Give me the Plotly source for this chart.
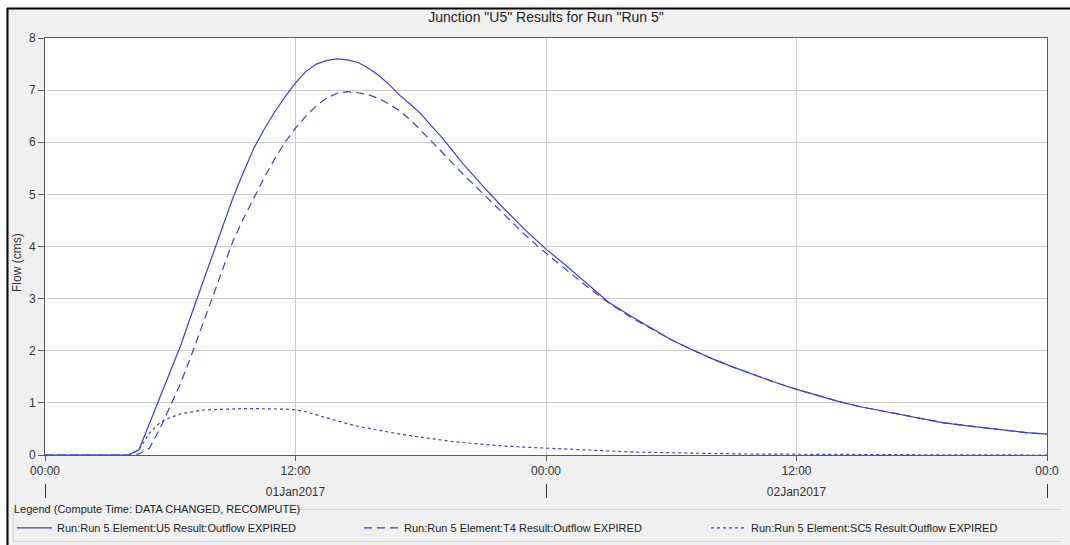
import pandas as pd
import plotly.graph_objects as go

# ---------------- data ----------------
START = "2017-01-01 00:00"
END = "2017-01-03 00:00"

hours = [0, 1, 2, 3, 4, 4.5, 5, 5.5, 6, 6.5, 7, 7.5, 8, 8.5, 9, 9.5, 10, 10.5,
         11, 11.5, 12, 12.5, 13, 13.5, 14, 14.5, 15, 15.5, 16, 16.5, 17, 17.5,
         18, 18.5, 19, 19.5, 20, 21, 22, 23, 24, 25, 26, 27, 28, 29, 30, 31,
         32, 33, 34, 35, 36, 37, 38, 39, 40, 41, 42, 43, 44, 45, 46, 47, 48]

u5_outflow = [0, 0, 0, 0, 0, 0.10, 0.60, 1.10, 1.60, 2.10, 2.68, 3.25, 3.83, 4.40,
              4.93, 5.42, 5.88, 6.25, 6.58, 6.87, 7.14, 7.36, 7.50, 7.57, 7.60,
              7.58, 7.53, 7.42, 7.28, 7.10, 6.90, 6.73, 6.55, 6.32, 6.10, 5.85,
              5.60, 5.15, 4.72, 4.32, 3.95, 3.62, 3.28, 2.93, 2.68, 2.44, 2.21,
              2.02, 1.84, 1.68, 1.53, 1.39, 1.26, 1.14, 1.03, 0.93, 0.85, 0.77,
              0.69, 0.62, 0.57, 0.52, 0.47, 0.43, 0.40]

t4_outflow = [0, 0, 0, 0, 0, 0.02, 0.13, 0.50, 0.93, 1.38, 1.90, 2.45, 3.02, 3.58,
              4.10, 4.53, 4.93, 5.32, 5.68, 6.00, 6.27, 6.50, 6.70, 6.85, 6.94,
              6.97, 6.95, 6.91, 6.84, 6.73, 6.60, 6.43, 6.23, 6.03, 5.82, 5.61,
              5.40, 5.00, 4.60, 4.22, 3.87, 3.54, 3.22, 2.92, 2.66, 2.43, 2.21,
              2.02, 1.84, 1.68, 1.53, 1.39, 1.26, 1.14, 1.03, 0.93, 0.85, 0.77,
              0.69, 0.62, 0.57, 0.52, 0.47, 0.43, 0.40]

sc5_outflow = [0, 0, 0, 0, 0, 0.10, 0.42, 0.62, 0.72, 0.79, 0.83, 0.86, 0.87, 0.88,
               0.89, 0.89, 0.89, 0.89, 0.89, 0.88, 0.865, 0.83, 0.77, 0.71, 0.65,
               0.60, 0.55, 0.51, 0.47, 0.43, 0.40, 0.37, 0.34, 0.31, 0.28, 0.26,
               0.24, 0.20, 0.17, 0.15, 0.13, 0.11, 0.09, 0.075, 0.06, 0.05, 0.04,
               0.033, 0.027, 0.022, 0.018, 0.015, 0.012, 0.010, 0.008, 0.007,
               0.006, 0.005, 0.004, 0.003, 0.002, 0, 0, 0, 0]

series_names = ["Run:Run 5 Element:U5 Result:Outflow EXPIRED",
                "Run:Run 5 Element:T4 Result:Outflow EXPIRED",
                "Run:Run 5 Element:SC5 Result:Outflow EXPIRED"]

main_tick_hours = [0, 12, 24, 36, 48]
main_tick_labels = ["00:00", "12:00", "00:00", "12:00", "00:0"]
date_tick_hours = [12, 36]
date_tick_labels = ["01Jan2017", "02Jan2017"]
day_boundary_hours = [0, 24, 48]
y_tick_values = [0, 1, 2, 3, 4, 5, 6, 7, 8]

TITLE = 'Junction "U5" Results for Run "Run 5"'
Y_TITLE = "Flow (cms)"
LEGEND_TITLE = "Legend (Compute Time: DATA CHANGED, RECOMPUTE)"

# ---------------- build ----------------
t0 = pd.Timestamp(START)
def at(h):
    return t0 + pd.Timedelta(hours=h)

times = [at(h) for h in hours]

W, H = 1070, 545
ML, MR, MT, MB = 45, 23, 38, 58
PW = W - ML - MR
PH = H - MT - MB
PAPER_BOTTOM = H - MB  # 487 px

def px_x(p):
    return (p - ML) / PW

def px_y(p):
    return (PAPER_BOTTOM - p) / PH

LINE_COLOR = "#3c3cd8"
FONT = "Liberation Sans, Arial, sans-serif"

fig = go.Figure()
styles = ["solid", "8px,5px", "3px,3px"]
for name, vals, dash in zip(series_names, [u5_outflow, t4_outflow, sc5_outflow], styles):
    fig.add_trace(go.Scatter(x=times, y=vals, mode="lines", name=name,
                             line=dict(color=LINE_COLOR, width=1.2, dash=dash),
                             xaxis="x", yaxis="y"))

# helper trace so the date row axis is drawn
fig.add_trace(go.Scatter(x=[at(0), at(48)], y=[None, None], xaxis="x2", yaxis="y",
                         showlegend=False, hoverinfo="skip", mode="lines"))

grid = "#cbcbcb"
axis_line = "#5a5a5a"

fig.update_layout(
    width=W, height=H,
    margin=dict(l=ML, r=MR, t=MT, b=MB, autoexpand=False),
    paper_bgcolor="#f0f0f0",
    plot_bgcolor="#ffffff",
    font=dict(family=FONT, size=12, color="#333333"),
    title=dict(text=TITLE, x=0.5, xref="paper", xanchor="center",
               y=1 - 17 / H, yref="container", yanchor="middle",
               font=dict(size=14, color="#222222", family=FONT)),
    xaxis=dict(type="date", range=[at(0), at(48)], anchor="y",
               tickmode="array", tickvals=[at(h) for h in main_tick_hours],
               ticktext=main_tick_labels, ticks="outside", ticklen=5,
               tickcolor=axis_line, showgrid=True, gridcolor=grid, gridwidth=1,
               showline=True, linecolor=axis_line, linewidth=1, mirror=True,
               zeroline=False, tickfont=dict(size=12, color="#333333")),
    xaxis2=dict(type="date", range=[at(0), at(48)], overlaying="x",
                anchor="free", position=px_y(483), side="bottom",
                tickmode="array", tickvals=[at(h) for h in date_tick_hours],
                ticktext=date_tick_labels, ticks="", showline=False,
                showgrid=False, zeroline=False,
                tickfont=dict(size=12, color="#333333"),
                minor=dict(tickmode="array",
                           tickvals=[at(h) for h in day_boundary_hours],
                           ticks="outside", ticklen=14, tickwidth=1,
                           tickcolor="#333333", showgrid=False)),
    yaxis=dict(range=[0, 8], domain=[px_y(455), 1], tickmode="array",
               tickvals=y_tick_values, ticks="outside", ticklen=6,
               tickcolor=axis_line, showgrid=True, gridcolor=grid, gridwidth=1,
               showline=True, linecolor=axis_line, linewidth=1, mirror=True,
               zeroline=False, tickfont=dict(size=12, color="#333333")),
    legend=dict(orientation="h", x=px_x(12), y=px_y(499), xanchor="left",
                yanchor="top", xref="paper", yref="paper",
                bgcolor="rgba(0,0,0,0)", borderwidth=0,
                font=dict(size=11, color="#222222", family=FONT),
                title=dict(text=LEGEND_TITLE, side="top",
                           font=dict(size=11, color="#222222", family=FONT)),
                entrywidth=297, entrywidthmode="pixels", itemwidth=35,
                tracegroupgap=0),
    showlegend=True,
)

fig.add_annotation(text=Y_TITLE, x=px_x(17), y=px_y(263), xref="paper", yref="paper",
                   textangle=-90, showarrow=False, xanchor="center", yanchor="middle",
                   font=dict(size=12, color="#333333", family=FONT))

# frame: white outer margin, black border, group-box lines of the legend
shapes = [
    dict(type="rect", x0=px_x(0), x1=px_x(W), y0=px_y(0), y1=px_y(7.5),
         fillcolor="white", line=dict(width=0)),
    dict(type="rect", x0=px_x(0), x1=px_x(6.5), y0=px_y(0), y1=px_y(H),
         fillcolor="white", line=dict(width=0)),
    dict(type="line", x0=px_x(7), x1=px_x(W), y0=px_y(8.5), y1=px_y(8.5),
         line=dict(color="black", width=2)),
    dict(type="line", x0=px_x(7.5), x1=px_x(7.5), y0=px_y(8), y1=px_y(H),
         line=dict(color="black", width=2)),
    dict(type="line", x0=px_x(292), x1=px_x(1062), y0=px_y(509.5), y1=px_y(509.5),
         line=dict(color="#d2d2d2", width=1)),
    dict(type="line", x0=px_x(13), x1=px_x(1062), y0=px_y(541.5), y1=px_y(541.5),
         line=dict(color="#d2d2d2", width=1)),
    dict(type="line", x0=px_x(13.5), x1=px_x(13.5), y0=px_y(509), y1=px_y(542),
         line=dict(color="#d2d2d2", width=1)),
]
for s in shapes:
    s.update(xref="paper", yref="paper", layer="above")
fig.update_layout(shapes=shapes)

fig.write_html("out.html", config={"displayModeBar": False},
               post_script="document.body.style.margin='0';")
